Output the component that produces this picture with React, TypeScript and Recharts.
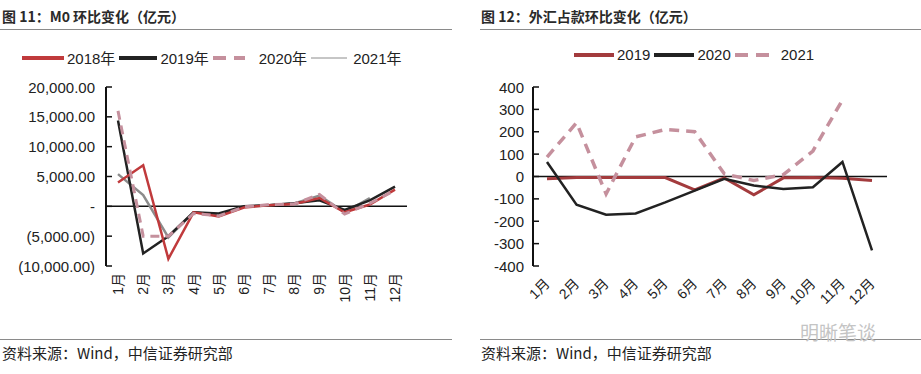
import { LineChart, Line, XAxis, YAxis, ReferenceLine } from 'recharts'

const months = ['1月', '2月', '3月', '4月', '5月', '6月', '7月', '8月', '9月', '10月', '11月', '12月']

// 图11 M0 环比变化（亿元）
const m0_2018 = [4000, 6900, -8800, -1000, -1700, -200, 200, 400, 1400, -1000, 300, 2800]
const m0_2019 = [14400, -7900, -5000, -1000, -1200, 0, 200, 500, 1000, -600, 1000, 3300]
const m0_2020 = [16000, -5000, -5000, -1200, -1600, -100, 300, 400, 2000, -1300, 500, 2700]
const m0_2021 = [5400, 1900, -5200, -1000, -1500, -100, 200, 500, 1800, -1000, 1400, null]
const m0Ticks = [-10000, -5000, 0, 5000, 10000, 15000, 20000]

// 图12 外汇占款环比变化（亿元）
const fx_2019 = [-10, -5, -5, -5, -5, -60, -6, -82, -6, -5, -8, -18]
const fx_2020 = [65, -126, -171, -165, -116, -63, -10, -40, -56, -48, 65, -330]
const fx_2021 = [87, 240, -78, 177, 210, 200, 12, -18, 8, 114, 342, null]
const fxTicks = [-400, -300, -200, -100, 0, 100, 200, 300, 400]

const m0Data = months.map((m, i) => ({ m, a: m0_2018[i], b: m0_2019[i], c: m0_2020[i], d: m0_2021[i] }))
const fxData = months.map((m, i) => ({ m, a: fx_2019[i], b: fx_2020[i], c: fx_2021[i] }))

const RED = '#c03a3c'
const DARKRED = '#a33b3d'
const BLACK = '#222'
const PINK = '#c5909d'
const GRAY = '#8c8c8c'
const FONT = '"Liberation Sans", Arial, "Noto Sans CJK SC", sans-serif'

const fmtM0 = (v: number) => {
  if (v === 0) return '-'
  const s = Math.abs(v).toLocaleString('en-US', { minimumFractionDigits: 2, maximumFractionDigits: 2 })
  return v < 0 ? `(${s})` : s
}

function YTick({ x, y, payload, fmt, gap }: any) {
  const ax = x + gap
  return (
    <g>
      <line x1={ax} x2={ax + 6} y1={y} y2={y} stroke="#111" strokeWidth={1.5} />
      <text x={x} y={y} textAnchor="end" dominantBaseline="central" fontSize={15} fill="#222" fontFamily={FONT}>
        {fmt(payload.value)}
      </text>
    </g>
  )
}

function XTickV({ x, y, payload }: any) {
  const ty = y + 7
  return (
    <text x={x} y={ty} transform={`rotate(-90 ${x} ${ty})`} textAnchor="end" dominantBaseline="central" fontSize={14} fill="#222" fontFamily={FONT}>
      {payload.value}
    </text>
  )
}

function XTickD({ x, y, payload }: any) {
  const tx = x
  const ty = y + 15
  return (
    <text x={tx} y={ty} transform={`rotate(-45 ${tx} ${ty})`} textAnchor="end" dominantBaseline="central" fontSize={14} fill="#222" fontFamily={FONT}>
      {payload.value}
    </text>
  )
}

function Swatch({ color, width, thick, dashed }: any) {
  return (
    <svg width={width} height={10} style={{ display: 'block' }}>
      <line x1={0} x2={width} y1={5} y2={5} stroke={color} strokeWidth={thick} strokeDasharray={dashed ? '13 8' : undefined} />
    </svg>
  )
}

function LegendRow({ items, left, top }: any) {
  return (
    <div style={{ position: 'absolute', left, top, display: 'flex', alignItems: 'center', fontFamily: FONT, fontSize: 15, color: '#222' }}>
      {items.map((it: any, i: number) => (
        <div key={i} style={{ display: 'flex', alignItems: 'center' }}>
          <Swatch color={it.color} width={it.w} thick={it.thick} dashed={it.dashed} />
          <span style={{ marginLeft: it.gap ?? 3, marginRight: 4 }}>{it.label}</span>
        </div>
      ))}
    </div>
  )
}

const titleStyle: any = { position: 'absolute', top: 6, fontFamily: '"Noto Sans CJK SC", sans-serif', fontSize: 14, fontWeight: 700, color: '#2a2a2a', whiteSpace: 'nowrap' }
const srcStyle: any = { position: 'absolute', top: 342, fontFamily: '"Noto Sans CJK SC", sans-serif', fontSize: 15, color: '#222', whiteSpace: 'nowrap' }

export default function App() {
  return (
    <div style={{ position: 'relative', width: 921, height: 374, background: '#fff', overflow: 'hidden' }}>
      <style>{'body{margin:0}'}</style>

      <div style={{ ...titleStyle, left: 2 }}>图 11：M0 环比变化（亿元）</div>
      <div style={{ position: 'absolute', left: 0, top: 29, width: 452, borderTop: '1px solid #8a8a8a' }} />
      <div style={{ ...titleStyle, left: 481 }}>图 12：外汇占款环比变化（亿元）</div>
      <div style={{ position: 'absolute', left: 480, top: 29, width: 441, borderTop: '1px solid #8a8a8a' }} />

      <LegendRow
        left={22}
        top={47}
        items={[
          { label: '2018年', color: RED, w: 42, thick: 4 },
          { label: '2019年', color: BLACK, w: 38, thick: 4 },
          { label: '2020年', color: PINK, w: 32, thick: 4, dashed: true, gap: 14 },
          { label: '2021年', color: GRAY, w: 36, thick: 1, gap: 6 },
        ]}
      />
      <LegendRow
        left={574}
        top={46}
        items={[
          { label: '2019', color: DARKRED, w: 40, thick: 4 },
          { label: '2020', color: BLACK, w: 40, thick: 4 },
          { label: '2021', color: PINK, w: 36, thick: 4, dashed: true, gap: 10 },
        ]}
      />

      <div style={{ position: 'absolute', left: 0, top: 0 }}>
        <LineChart width={460} height={374} data={m0Data} margin={{ top: 87, right: 53, bottom: 68, left: 0 }}>
          <XAxis dataKey="m" axisLine={false} tickLine={false} tickSize={0} tickMargin={0} height={40} padding={{ left: 12, right: 12 }} tick={<XTickV />} interval={0} />
          <YAxis
            width={106}
            domain={[-10000, 20000]}
            ticks={m0Ticks}
            interval={0}
            tickLine={false}
            tickSize={0}
            tickMargin={11}
            axisLine={{ stroke: '#111', strokeWidth: 2 }}
            tick={<YTick fmt={fmtM0} gap={11} />}
          />
          <ReferenceLine y={0} stroke="#111" strokeWidth={1.5} />
          <Line dataKey="d" stroke={GRAY} strokeWidth={2.5} dot={false} isAnimationActive={false} />
          <Line dataKey="b" stroke={BLACK} strokeWidth={2.5} dot={false} isAnimationActive={false} />
          <Line dataKey="a" stroke={RED} strokeWidth={2.5} dot={false} isAnimationActive={false} />
          <Line dataKey="c" stroke={PINK} strokeWidth={3} strokeDasharray="9 6" dot={false} isAnimationActive={false} />
        </LineChart>
      </div>

      <div style={{ position: 'absolute', left: 460, top: 0 }}>
        <LineChart width={461} height={374} data={fxData} margin={{ top: 87, right: 34, bottom: 68, left: 0 }}>
          <XAxis dataKey="m" axisLine={false} tickLine={false} tickSize={0} tickMargin={0} height={40} padding={{ left: 14, right: 15 }} tick={<XTickD />} interval={0} />
          <YAxis
            width={73}
            domain={[-400, 400]}
            ticks={fxTicks}
            interval={0}
            tickLine={false}
            tickSize={0}
            tickMargin={9}
            axisLine={{ stroke: '#111', strokeWidth: 2 }}
            tick={<YTick fmt={(v: number) => String(v)} gap={9} />}
          />
          <ReferenceLine y={0} stroke="#111" strokeWidth={1.5} />
          <Line dataKey="a" stroke={DARKRED} strokeWidth={3} dot={false} isAnimationActive={false} />
          <Line dataKey="b" stroke={BLACK} strokeWidth={2.5} dot={false} isAnimationActive={false} />
          <Line dataKey="c" stroke={PINK} strokeWidth={3.5} strokeDasharray="10 7" dot={false} isAnimationActive={false} />
        </LineChart>
      </div>

      <div style={{ position: 'absolute', left: 0, top: 339, width: 452, borderTop: '1px solid #8a8a8a' }} />
      <div style={{ position: 'absolute', left: 480, top: 339, width: 441, borderTop: '1px solid #8a8a8a' }} />
      <div style={{ ...srcStyle, left: 2 }}>资料来源：Wind，中信证券研究部</div>
      <div style={{ ...srcStyle, left: 481 }}>资料来源：Wind，中信证券研究部</div>
      <div style={{ position: 'absolute', left: 800, top: 318, fontFamily: '"Noto Sans CJK SC", sans-serif', fontSize: 19, color: '#c4c4c4', whiteSpace: 'nowrap' }}>明晰笔谈</div>
    </div>
  )
}
